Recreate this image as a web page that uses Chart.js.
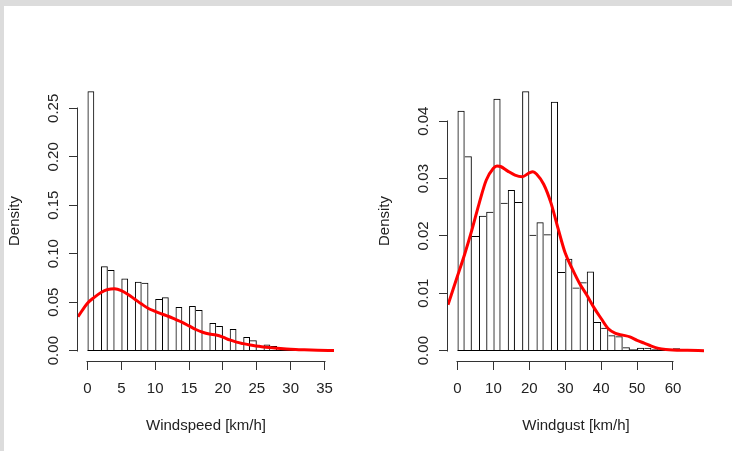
<!DOCTYPE html>
<html>
<head>
<meta charset="utf-8">
<script src="https://cdn.jsdelivr.net/npm/chart.js@4/dist/chart.umd.min.js"></script>
<style>
  html, body { margin: 0; padding: 0; background: #dcdcdc; overflow: hidden; }
  #page { position: absolute; left: 4px; top: 6px; width: 728px; height: 445px; background: #fff; }
  #speedChart { position: absolute; left: 0; top: 0; }
  #gustChart { position: absolute; left: 370px; top: 0; }
</style>
</head>
<body>
<div id="page"></div>
<canvas id="speedChart" width="370" height="451"></canvas>
<canvas id="gustChart" width="362" height="451"></canvas>
<script>
// windspeed: histogram with 1 km/h bins + density
const speedBins = [0, 1, 2, 3, 4, 5, 6, 7, 8, 9, 10, 11, 12, 13, 14, 15, 16, 17, 18, 19, 20, 21, 22, 23, 24, 25, 26, 27, 28, 29, 30, 31, 32, 33, 34]
const speedDensity = [0.2675, 0, 0.0871, 0.0833, 0, 0.0744, 0, 0.0710, 0.0700, 0, 0.0532, 0.0552, 0, 0.0449, 0, 0.0460, 0.0419, 0, 0.0285, 0.0254, 0, 0.0223, 0, 0.0140, 0.0108, 0, 0.0062, 0.0048, 0, 0.0020, 0, 0.0012, 0.0006, 0, 0.0002]
const speedKdeX = [-1.4, 0, 1, 2, 3, 4, 5, 6, 7, 8, 9, 10, 11, 12, 13, 14, 15, 16, 17, 18, 19, 20, 21, 22, 23, 24, 25, 26, 27, 28, 30, 32, 34, 36.4]
const speedKdeY = [0.035, 0.049, 0.055, 0.060, 0.063, 0.0638, 0.062, 0.058, 0.053, 0.048, 0.0435, 0.0405, 0.0378, 0.0352, 0.0322, 0.0292, 0.0255, 0.0218, 0.019, 0.0172, 0.0162, 0.014, 0.011, 0.0088, 0.0072, 0.0058, 0.0048, 0.0038, 0.0031, 0.0025, 0.0014, 0.0008, 0.0004, 0.0002]
const speedXTicks = [0, 5, 10, 15, 20, 25, 30, 35]
const speedYTicks = [0, 0.05, 0.10, 0.15, 0.20, 0.25]

// windgust: histogram with 2 km/h bins + density
const gustBins = [0, 2, 4, 6, 8, 10, 12, 14, 16, 18, 20, 22, 24, 26, 28, 30, 32, 34, 36, 38, 40, 42, 44, 46, 48, 50, 52, 54, 56, 58, 60, 62, 64]
const gustDensity = [0.0418, 0.0339, 0.0200, 0.0235, 0.0242, 0.0439, 0.0258, 0.0280, 0.0259, 0.0452, 0.0202, 0.0224, 0.0203, 0.0434, 0.0137, 0.0160, 0.0110, 0.0119, 0.0138, 0.0050, 0.0040, 0.0027, 0.0025, 0.0006, 0.0003, 0.0005, 0.0005, 0.0003, 0.0002, 0.0001, 0.0004, 0.0002, 0.0003]
const gustKdeX = [-2.64, 0, 2, 4, 6, 8, 10, 11, 12, 14, 16, 18, 20, 21, 22, 24, 26, 28, 30, 32, 34, 36, 38, 40, 42, 44, 46, 48, 50, 52, 54, 56, 58, 60, 64, 68.64]
const gustKdeY = [0.0080, 0.0130, 0.0168, 0.0210, 0.0256, 0.0297, 0.0318, 0.0322, 0.0321, 0.0313, 0.0306, 0.0303, 0.0310, 0.0312, 0.0308, 0.0290, 0.0258, 0.0213, 0.0170, 0.0142, 0.0117, 0.0097, 0.0075, 0.0056, 0.0038, 0.0030, 0.0027, 0.0024, 0.0018, 0.0013, 0.0008, 0.0004, 0.0002, 0.0001, 0.00005, 0]
const gustXTicks = [0, 10, 20, 30, 40, 50, 60]
const gustYTicks = [0, 0.01, 0.02, 0.03, 0.04]

const font = { family: "'Liberation Sans', Arial, sans-serif", size: 15 }
const ink = '#222'

// R style axes: line only from first to last tick, plus the bar baseline
const rAxes = {
    id: 'rAxes',
    beforeDatasetsDraw(chart, args, opts) {
        const { ctx, chartArea } = chart
        const x = chart.scales.x, y = chart.scales.y
        const xt = x.ticks, yt = y.ticks
        ctx.save()
        ctx.strokeStyle = '#333'
        ctx.lineWidth = 1
        ctx.beginPath()
        const ax = Math.round(chartArea.left) - 0.5
        ctx.moveTo(ax, Math.round(y.getPixelForValue(yt[0].value)) + 0.5)
        ctx.lineTo(ax, Math.round(y.getPixelForValue(yt[yt.length - 1].value)) - 0.5)
        const ay = Math.round(chartArea.bottom) + 0.5
        ctx.moveTo(Math.round(x.getPixelForValue(xt[0].value)) - 0.5, ay)
        ctx.lineTo(Math.round(x.getPixelForValue(xt[xt.length - 1].value)) + 0.5, ay)
        ctx.stroke()
        ctx.strokeStyle = '#000'
        ctx.beginPath()
        const by = Math.round(y.getPixelForValue(0)) - 0.5
        ctx.moveTo(x.getPixelForValue(opts.from), by)
        ctx.lineTo(x.getPixelForValue(opts.to), by)
        ctx.stroke()
        ctx.restore()
    }
}

const histChart = (id, bins, density, kdeX, kdeY, xTicks, yTicks, xTitle, rightPad) => {
    const width = bins[1] - bins[0]
    const lo = bins[0], hi = bins[bins.length - 1] + width
    const xExt = (hi - lo) * 0.04
    const yMax = Math.max(...density)
    const yExt = yMax * 0.04

    // each bin boundary is drawn once, by the taller of the two bars
    const borders = c => {
        const d = c.dataset.data, i = c.dataIndex
        const cur = d[i].y
        const prev = i > 0 ? d[i - 1].y : -1
        const next = i < d.length - 1 ? d[i + 1].y : -1
        return { top: 1, bottom: 0, left: prev < cur ? 1 : 0, right: next <= cur ? 1 : 0 }
    }

    const data = {
        datasets: [{
            type: 'line',
            order: 0,
            data: kdeX.map((v, i) => ({ x: v, y: kdeY[i] })),
            borderColor: '#ff0000',
            borderWidth: 3,
            pointRadius: 0,
            cubicInterpolationMode: 'monotone',
            fill: false
        }, {
            type: 'bar',
            order: 1,
            data: bins.map((b, i) => ({ x: b + width / 2, y: density[i] })),
            backgroundColor: 'rgba(0,0,0,0)',
            borderColor: '#000',
            borderWidth: borders,
            borderSkipped: false,
            inflateAmount: 0,
            barPercentage: 1,
            categoryPercentage: 1
        }]
    }

    const options = {
        responsive: false,
        animation: false,
        layout: { padding: { left: 0, top: 81, right: rightPad, bottom: 16 } },
        plugins: {
            legend: { display: false },
            tooltip: { enabled: false },
            rAxes: { from: lo, to: hi }
        },
        scales: {
            x: {
                type: 'linear',
                min: lo - xExt,
                max: hi + xExt,
                offset: false,
                grid: { offset: false, drawOnChartArea: false, drawTicks: true, tickLength: 9, color: '#333' },
                border: { display: false },
                afterBuildTicks: s => { s.ticks = xTicks.map(v => ({ value: v })) },
                afterFit: s => { s.height = 74 },
                ticks: { font, color: ink, padding: 10, maxRotation: 0, autoSkip: false, callback: v => String(v) },
                title: { display: true, text: xTitle, font, color: ink, padding: { top: 0, bottom: 0 } }
            },
            y: {
                type: 'linear',
                min: -yExt,
                max: yMax + yExt,
                grid: { drawOnChartArea: false, drawTicks: true, tickLength: 9, color: '#333' },
                border: { display: false },
                afterBuildTicks: s => { s.ticks = yTicks.map(v => ({ value: v })) },
                afterFit: s => { s.width = 78 },
                ticks: { font, color: ink, padding: 1, minRotation: 90, maxRotation: 90, crossAlign: 'center', autoSkip: false, callback: v => v.toFixed(2) },
                title: { display: true, text: 'Density', font, color: ink, padding: { top: 5.5, bottom: 0 } }
            }
        }
    }

    new Chart(id, { type: 'bar', data, options, plugins: [rAxes] })
}

histChart('speedChart', speedBins, speedDensity, speedKdeX, speedKdeY, speedXTicks, speedYTicks, 'Windspeed [km/h]', 36)
histChart('gustChart', gustBins, gustDensity, gustKdeX, gustKdeY, gustXTicks, gustYTicks, 'Windgust [km/h]', 28)
</script>
</body>
</html>
